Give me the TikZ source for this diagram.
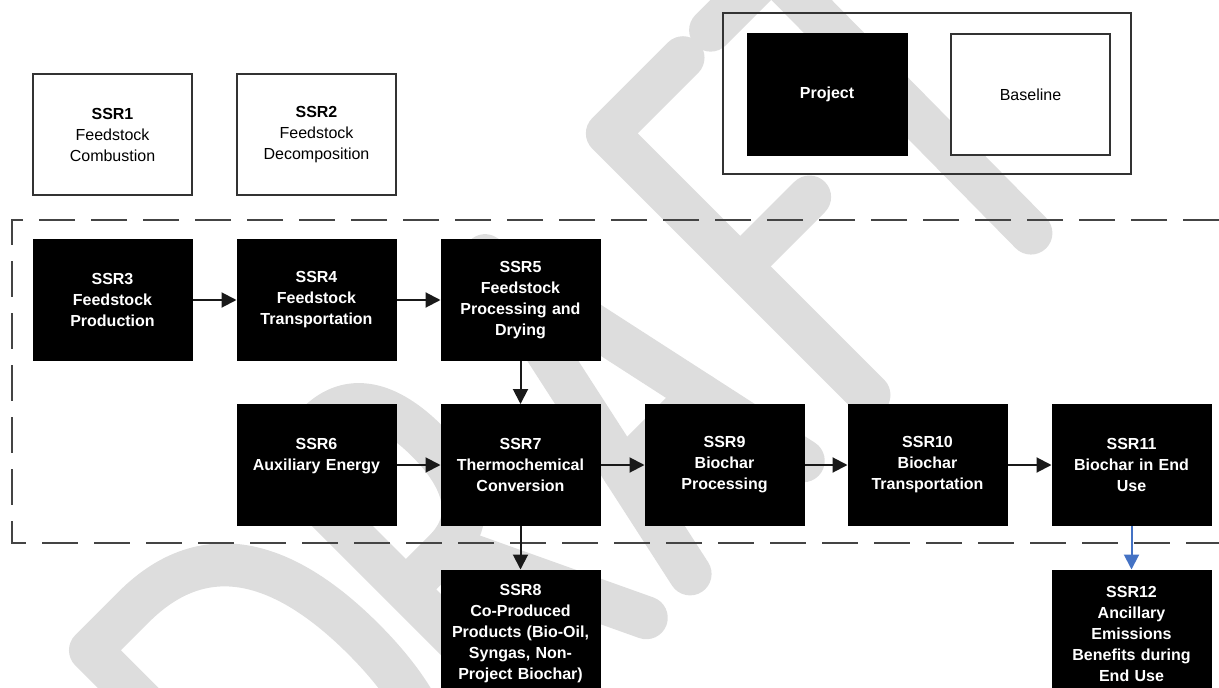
\documentclass[tikz,border=0pt]{standalone}
\usepackage{fontspec}
\setmainfont{Liberation Sans}
\usetikzlibrary{arrows.meta}
\definecolor{wm}{HTML}{DDDDDD}
\definecolor{edgec}{HTML}{333333}
\definecolor{dashc}{HTML}{444444}
\definecolor{bluearr}{HTML}{4472C4}
\tikzset{
  box/.style={rectangle, minimum width=159pt, minimum height=121pt, inner sep=0pt,
    align=center, text width=157pt, font=\fontsize{16}{21}\selectfont},
  blk/.style={box, fill=black, draw=black, line width=1pt, text=white,
    font=\fontsize{16}{21}\selectfont\bfseries},
  wht/.style={box, fill=white, draw=edgec, line width=1.5pt, text=black},
  arr/.style={draw=black!90, line width=2pt, -{Triangle[length=15pt,width=15pt]}},
  bluearrow/.style={draw=bluearr, line width=2pt, -{Triangle[length=15pt,width=15pt]}},
  wmark/.style={draw=wm, line width=43pt, line cap=round, line join=round},
  bound/.style={draw=dashc, line width=2.5pt, dash pattern=on 36pt off 16pt},
}
\begin{document}
\begin{tikzpicture}[x=1pt, y=-1pt]
\path[use as bounding box] (0,0) rectangle (1219,688);
\clip (0,0) rectangle (1219,688);

% watermark "DRAFT"
\begin{scope}[shift={(869,395)}, x={(0.7071pt,0.7071pt)}, y={(-0.7071pt,0.7071pt)}]
  \draw[wmark] (-670,0) -- (-731,0) -- (-731,370) -- (-670,370)
     .. controls (-565,370) and (-530,290) .. (-530,185)
     .. controls (-530,80) and (-565,0) .. (-670,0) -- cycle;
  \draw[wmark] (-465,0) -- (-465,370) -- (-410,370)
     .. controls (-365,370) and (-345,335) .. (-345,280)
     .. controls (-345,225) and (-365,190) .. (-410,190) -- (-465,190);
  \draw[wmark] (-405,190) -- (-315,0);
  \draw[wmark] (-253,0) -- (-173,370) -- (-93,0);
  \draw[wmark] (-227,120) -- (-119,120);
  \draw[wmark] (0,0) -- (0,370) -- (107,370);
  \draw[wmark] (0,182) -- (98,182);
  \draw[wmark] (146,370) -- (316,370);
  \draw[wmark] (232,370) -- (229,0);
\end{scope}

% project boundary (open to the right)
\coordinate (bTR) at (1219,220);
\coordinate (bTL) at (12,220);
\coordinate (bBL) at (12,543);
\coordinate (bBR) at (1219,543);
\draw[bound] (bTR) -- (bTL) -- (bBL) -- (bBR);

% legend
\node[draw=edgec, line width=1.5pt, minimum width=408pt, minimum height=161pt, inner sep=0pt] (legend) at (927,93.5) {};
\node[blk, minimum width=160pt, minimum height=122pt] (proj) at (827,94) {Project};
\node[wht] (base) at (1030.5,94.5) {Baseline};

% baseline SSRs
\node[wht] (s1) at (112.5,134.5) {\textbf{SSR1}\\Feedstock\\Combustion};
\node[wht] (s2) at (316.5,134.5) {\textbf{SSR2}\\Feedstock\\Decomposition};

% row 1
\node[blk] (s3) at (112.5,300) {SSR3\\Feedstock\\Production};
\node[blk] (s4) at (316.5,300) {SSR4\\Feedstock\\Transportation};
\node[blk] (s5) at (520.5,300) {SSR5\\Feedstock\\Processing and\\Drying};

% row 2
\node[blk] (s6) at (316.5,465) {SSR6\\Auxiliary Energy\\~};
\node[blk] (s7) at (520.5,465) {SSR7\\Thermochemical\\Conversion};
\node[blk] (s9) at (724.5,465) {SSR9\\Biochar\\Processing};
\node[blk] (s10) at (927.5,465) {SSR10\\Biochar\\Transportation};
\node[blk] (s11) at (1131.5,465) {SSR11\\Biochar in End\\Use};

% row 3
\node[blk, minimum height=128pt] (s8) at (520.5,634) {SSR8\\Co-Produced\\Products (Bio-Oil,\\Syngas, Non-\\Project Biochar)};
\node[blk, minimum height=128pt] (s12) at (1131.5,634) {SSR12\\Ancillary\\Emissions\\Benefits during\\End Use};

% connectors
\draw[arr] (s3) -- (s4);
\draw[arr] (s4) -- (s5);
\draw[arr] (s5) -- (s7);
\draw[arr] (s6) -- (s7);
\draw[arr] (s7) -- (s9);
\draw[arr] (s9) -- (s10);
\draw[arr] (s10) -- (s11);
\draw[arr] (s7) -- (s8);
\draw[bluearrow] (s11) -- (s12);
\end{tikzpicture}
\end{document}
